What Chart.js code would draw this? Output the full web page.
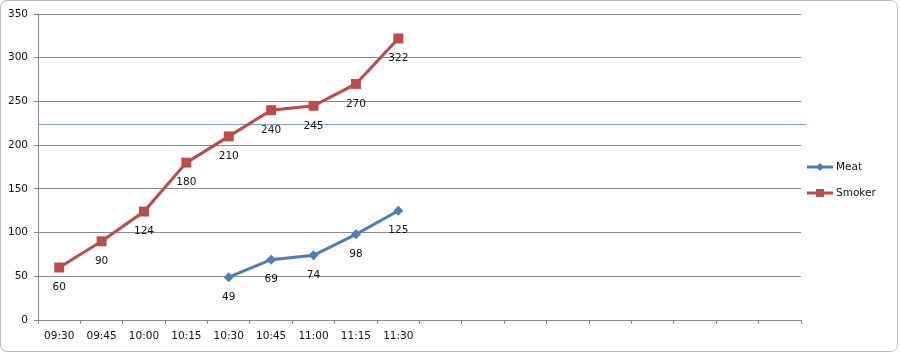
<!DOCTYPE html>
<html>
<head>
<meta charset="utf-8">
<script src="https://cdn.jsdelivr.net/npm/chart.js@4/dist/chart.umd.min.js"></script>
<style>
  html, body { margin: 0; padding: 0; background: #fff; }
  #wrap { position: relative; width: 900px; height: 353px; }
  #frame {
    position: absolute; left: 0; top: 0; width: 898px; height: 352px;
    border: 1px solid #bdbdbd; border-radius: 7px; box-sizing: border-box;
  }
  canvas { position: absolute; left: 0; top: 0; }
</style>
</head>
<body>
<div id="wrap">
  <div id="frame"></div>
  <canvas id="chart" width="900" height="353"></canvas>
</div>
<script>
const times = ["09:30", "09:45", "10:00", "10:15", "10:30", "10:45", "11:00", "11:15", "11:30",
    "", "", "", "", "", "", "", "", ""];
const meat = [null, null, null, null, 49, 69, 74, 98, 125];
const smoker = [60, 90, 124, 180, 210, 240, 245, 270, 322];
const yTicks = [0, 50, 100, 150, 200, 250, 300, 350];
const targetTemp = 224;

const FONT = "'DejaVu Sans', sans-serif";
const GRID = "#8a8a8a";
const TEXT = "#111";

// value labels under each point
const valueLabels = {
    id: "valueLabels",
    afterDatasetsDraw(chart) {
        const ctx = chart.ctx;
        ctx.save();
        ctx.font = `10.5px ${FONT}`;
        ctx.fillStyle = TEXT;
        ctx.textAlign = "center";
        ctx.textBaseline = "middle";
        chart.data.datasets.forEach((ds, i) => {
            chart.getDatasetMeta(i).data.forEach((pt, j) => {
                if (ds.data[j] == null) return;
                ctx.fillText(String(ds.data[j]), pt.x, pt.y + 20);
            });
        });
        ctx.restore();
    },
};

// thin horizontal target line
const targetLine = {
    id: "targetLine",
    beforeDatasetsDraw(chart) {
        const { ctx, chartArea, scales } = chart;
        const y = Math.round(scales.y.getPixelForValue(targetTemp)) + 0.5;
        ctx.save();
        ctx.strokeStyle = "#7fa5d8";
        ctx.lineWidth = 1;
        ctx.beginPath();
        ctx.moveTo(chartArea.left, y);
        ctx.lineTo(chartArea.right + 5, y);
        ctx.stroke();
        ctx.restore();
    },
};

// Excel-like legend on the right
const sideLegend = {
    id: "sideLegend",
    afterDraw(chart) {
        const ctx = chart.ctx;
        ctx.save();
        ctx.font = `10.5px ${FONT}`;
        ctx.textBaseline = "middle";
        chart.data.datasets.forEach((ds, i) => {
            const y = 167 + i * 26;
            ctx.strokeStyle = ds.borderColor;
            ctx.lineWidth = 3;
            ctx.beginPath();
            ctx.moveTo(807, y);
            ctx.lineTo(833, y);
            ctx.stroke();
            ctx.fillStyle = ds.borderColor;
            if (ds.pointStyle === "rectRot") {
                ctx.beginPath();
                ctx.moveTo(820, y - 4);
                ctx.lineTo(824, y);
                ctx.lineTo(820, y + 4);
                ctx.lineTo(816, y);
                ctx.closePath();
                ctx.fill();
            } else {
                ctx.fillRect(816, y - 4, 8, 8);
            }
            ctx.fillStyle = TEXT;
            ctx.fillText(ds.label, 836, y);
        });
        ctx.restore();
    },
};

new Chart(document.getElementById("chart"), {
    type: "line",
    data: {
        labels: times,
        datasets: [
            {
                label: "Meat",
                data: meat,
                borderColor: "#4a7ebb",
                backgroundColor: "#4a7ebb",
                borderWidth: 3,
                pointStyle: "rectRot",
                pointRadius: 5,
                pointBorderWidth: 0,
                tension: 0,
                spanGaps: false,
            },
            {
                label: "Smoker",
                data: smoker,
                borderColor: "#be4b48",
                backgroundColor: "#be4b48",
                borderWidth: 3,
                pointStyle: "rect",
                pointRadius: 7,
                pointBorderWidth: 0,
                tension: 0,
            },
        ],
    },
    options: {
        responsive: false,
        animation: false,
        layout: { padding: { left: 0, top: 14, right: 99, bottom: 0 } },
        plugins: {
            legend: { display: false },
            tooltip: { enabled: false },
        },
        scales: {
            x: {
                offset: true,
                grid: {
                    offset: true,
                    drawOnChartArea: false,
                    drawTicks: true,
                    tickLength: 4,
                    color: GRID,
                },
                border: { color: GRID },
                ticks: {
                    color: TEXT,
                    font: { family: FONT, size: 10.5 },
                    padding: 6,
                    autoSkip: false,
                    maxRotation: 0,
                },
                afterFit(scale) { scale.height = 33; },
            },
            y: {
                min: 0,
                max: 350,
                afterBuildTicks(scale) { scale.ticks = yTicks.map((v) => ({ value: v })); },
                grid: { color: GRID, tickLength: 4 },
                border: { color: GRID },
                ticks: {
                    color: TEXT,
                    font: { family: FONT, size: 10.5 },
                    padding: 6,
                },
                afterFit(scale) { scale.width = 38; },
            },
        },
    },
    plugins: [targetLine, valueLabels, sideLegend],
});
</script>
</body>
</html>
